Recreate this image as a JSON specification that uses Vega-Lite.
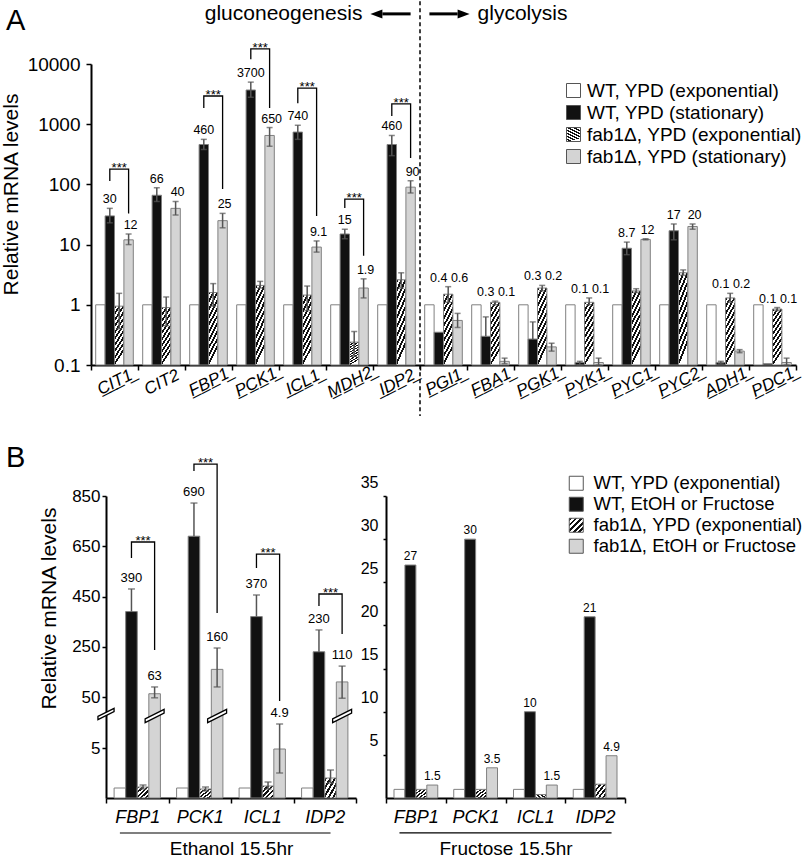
{
"$schema": "https://vega.github.io/schema/vega-lite/v6.json",
"background": "white",
"padding": 0,
"bounds": "flush",
"spacing": 131,
"config": {
  "font": "Liberation Sans",
  "view": {"stroke": null},
  "axis": {"domainColor": "#000", "domainWidth": 2, "tickColor": "#000", "tickWidth": 1.5, "labelColor": "#000", "titleColor": "#000", "grid": false, "titleFontWeight": "normal"},
  "legend": {"labelColor": "#000", "labelLimit": 0},
  "title": {"fontWeight": "normal", "color": "#000"},
  "text": {"color": "#000"}
},
"resolve": {"scale": {"x": "independent", "y": "independent", "xOffset": "independent", "fill": "independent", "shape": "independent"}, "legend": {"fill": "independent"}, "axis": {"x": "independent", "y": "independent"}},
"datasets": {
  "A": [
    {"gene": "CIT1", "series": "WT, YPD (exponential)", "value": 1},
    {"gene": "CIT1", "series": "WT, YPD (stationary)", "value": 30, "lo": 23, "hi": 40, "label": "30"},
    {"gene": "CIT1", "series": "fab1Δ, YPD (exponential)", "value": 0.95, "lo": 0.4, "hi": 1.55},
    {"gene": "CIT1", "series": "fab1Δ, YPD (stationary)", "value": 12, "lo": 10, "hi": 15, "label": "12"},
    {"gene": "CIT2", "series": "WT, YPD (exponential)", "value": 1},
    {"gene": "CIT2", "series": "WT, YPD (stationary)", "value": 66, "lo": 52, "hi": 88, "label": "66"},
    {"gene": "CIT2", "series": "fab1Δ, YPD (exponential)", "value": 0.9, "lo": 0.45, "hi": 1.35},
    {"gene": "CIT2", "series": "fab1Δ, YPD (stationary)", "value": 40, "lo": 31, "hi": 52, "label": "40"},
    {"gene": "FBP1", "series": "WT, YPD (exponential)", "value": 1},
    {"gene": "FBP1", "series": "WT, YPD (stationary)", "value": 460, "lo": 380, "hi": 560, "label": "460"},
    {"gene": "FBP1", "series": "fab1Δ, YPD (exponential)", "value": 1.6, "lo": 0.95, "hi": 2.25},
    {"gene": "FBP1", "series": "fab1Δ, YPD (stationary)", "value": 25, "lo": 19, "hi": 33, "label": "25"},
    {"gene": "PCK1", "series": "WT, YPD (exponential)", "value": 1},
    {"gene": "PCK1", "series": "WT, YPD (stationary)", "value": 3700, "lo": 2800, "hi": 5000, "label": "3700"},
    {"gene": "PCK1", "series": "fab1Δ, YPD (exponential)", "value": 2.1, "lo": 1.9, "hi": 2.45},
    {"gene": "PCK1", "series": "fab1Δ, YPD (stationary)", "value": 650, "lo": 430, "hi": 880, "label": "650"},
    {"gene": "ICL1", "series": "WT, YPD (exponential)", "value": 1},
    {"gene": "ICL1", "series": "WT, YPD (stationary)", "value": 740, "lo": 560, "hi": 960, "label": "740"},
    {"gene": "ICL1", "series": "fab1Δ, YPD (exponential)", "value": 1.45, "lo": 0.8, "hi": 2.05},
    {"gene": "ICL1", "series": "fab1Δ, YPD (stationary)", "value": 9.1, "lo": 7.5, "hi": 11.5, "label": "9.1"},
    {"gene": "MDH2", "series": "WT, YPD (exponential)", "value": 1},
    {"gene": "MDH2", "series": "WT, YPD (stationary)", "value": 15, "lo": 12.5, "hi": 18, "label": "15"},
    {"gene": "MDH2", "series": "fab1Δ, YPD (exponential)", "value": 0.24, "lo": 0.14, "hi": 0.36},
    {"gene": "MDH2", "series": "fab1Δ, YPD (stationary)", "value": 1.9, "lo": 1.3, "hi": 2.7, "label": "1.9"},
    {"gene": "IDP2", "series": "WT, YPD (exponential)", "value": 1},
    {"gene": "IDP2", "series": "WT, YPD (stationary)", "value": 460, "lo": 300, "hi": 650, "label": "460"},
    {"gene": "IDP2", "series": "fab1Δ, YPD (exponential)", "value": 2.6, "lo": 1.9, "hi": 3.4},
    {"gene": "IDP2", "series": "fab1Δ, YPD (stationary)", "value": 90, "lo": 72, "hi": 115, "label": "90"},
    {"gene": "PGI1", "series": "WT, YPD (exponential)", "value": 1},
    {"gene": "PGI1", "series": "WT, YPD (stationary)", "value": 0.35, "hi": 0.35, "label": "0.4"},
    {"gene": "PGI1", "series": "fab1Δ, YPD (exponential)", "value": 1.5, "lo": 1.1, "hi": 2.0},
    {"gene": "PGI1", "series": "fab1Δ, YPD (stationary)", "value": 0.55, "lo": 0.42, "hi": 0.72, "label": "0.6"},
    {"gene": "FBA1", "series": "WT, YPD (exponential)", "value": 1},
    {"gene": "FBA1", "series": "WT, YPD (stationary)", "value": 0.3, "lo": 0.3, "hi": 0.63, "label": "0.3"},
    {"gene": "FBA1", "series": "fab1Δ, YPD (exponential)", "value": 1.1, "lo": 1.0, "hi": 1.15},
    {"gene": "FBA1", "series": "fab1Δ, YPD (stationary)", "value": 0.115, "lo": 0.105, "hi": 0.13, "label": "0.1"},
    {"gene": "PGK1", "series": "WT, YPD (exponential)", "value": 1},
    {"gene": "PGK1", "series": "WT, YPD (stationary)", "value": 0.27, "lo": 0.27, "hi": 0.52, "label": "0.3"},
    {"gene": "PGK1", "series": "fab1Δ, YPD (exponential)", "value": 1.9, "lo": 1.7, "hi": 2.1},
    {"gene": "PGK1", "series": "fab1Δ, YPD (stationary)", "value": 0.2, "lo": 0.17, "hi": 0.23, "label": "0.2"},
    {"gene": "PYK1", "series": "WT, YPD (exponential)", "value": 1},
    {"gene": "PYK1", "series": "WT, YPD (stationary)", "value": 0.11, "lo": 0.1, "hi": 0.115, "label": "0.1"},
    {"gene": "PYK1", "series": "fab1Δ, YPD (exponential)", "value": 1.1, "lo": 1.0, "hi": 1.3},
    {"gene": "PYK1", "series": "fab1Δ, YPD (stationary)", "value": 0.11, "lo": 0.1, "hi": 0.13, "label": "0.1"},
    {"gene": "PYC1", "series": "WT, YPD (exponential)", "value": 1},
    {"gene": "PYC1", "series": "WT, YPD (stationary)", "value": 8.7, "lo": 6.8, "hi": 11, "label": "8.7"},
    {"gene": "PYC1", "series": "fab1Δ, YPD (exponential)", "value": 1.7, "lo": 1.6, "hi": 1.85},
    {"gene": "PYC1", "series": "fab1Δ, YPD (stationary)", "value": 12.2, "lo": 12, "hi": 12.5, "label": "12"},
    {"gene": "PYC2", "series": "WT, YPD (exponential)", "value": 1},
    {"gene": "PYC2", "series": "WT, YPD (stationary)", "value": 17, "lo": 12, "hi": 22, "label": "17"},
    {"gene": "PYC2", "series": "fab1Δ, YPD (exponential)", "value": 3.4, "lo": 3.1, "hi": 3.8},
    {"gene": "PYC2", "series": "fab1Δ, YPD (stationary)", "value": 20, "lo": 18, "hi": 22, "label": "20"},
    {"gene": "ADH1", "series": "WT, YPD (exponential)", "value": 1},
    {"gene": "ADH1", "series": "WT, YPD (stationary)", "value": 0.11, "lo": 0.105, "hi": 0.115, "label": "0.1"},
    {"gene": "ADH1", "series": "fab1Δ, YPD (exponential)", "value": 1.3, "lo": 1.1, "hi": 1.55},
    {"gene": "ADH1", "series": "fab1Δ, YPD (stationary)", "value": 0.17, "lo": 0.16, "hi": 0.18, "label": "0.2"},
    {"gene": "PDC1", "series": "WT, YPD (exponential)", "value": 1},
    {"gene": "PDC1", "series": "WT, YPD (stationary)", "value": 0.105, "hi": 0.105, "label": "0.1"},
    {"gene": "PDC1", "series": "fab1Δ, YPD (exponential)", "value": 0.85, "lo": 0.8, "hi": 0.9},
    {"gene": "PDC1", "series": "fab1Δ, YPD (stationary)", "value": 0.11, "lo": 0.1, "hi": 0.13, "label": "0.1"}
  ],
  "Abr": [
    {"gene": "CIT1", "series": "WT, YPD (stationary)", "y": 114, "o": 1},
    {"gene": "CIT1", "series": "WT, YPD (stationary)", "y": 180, "o": 2},
    {"gene": "CIT1", "series": "fab1Δ, YPD (stationary)", "y": 180, "o": 3},
    {"gene": "CIT1", "series": "fab1Δ, YPD (stationary)", "y": 33, "o": 4},
    {"gene": "FBP1", "series": "WT, YPD (stationary)", "y": 1860, "o": 1},
    {"gene": "FBP1", "series": "WT, YPD (stationary)", "y": 2940, "o": 2},
    {"gene": "FBP1", "series": "fab1Δ, YPD (stationary)", "y": 2940, "o": 3},
    {"gene": "FBP1", "series": "fab1Δ, YPD (stationary)", "y": 84, "o": 4},
    {"gene": "PCK1", "series": "WT, YPD (stationary)", "y": 12000, "o": 1},
    {"gene": "PCK1", "series": "WT, YPD (stationary)", "y": 17800, "o": 2},
    {"gene": "PCK1", "series": "fab1Δ, YPD (stationary)", "y": 17800, "o": 3},
    {"gene": "PCK1", "series": "fab1Δ, YPD (stationary)", "y": 1860, "o": 4},
    {"gene": "ICL1", "series": "WT, YPD (stationary)", "y": 2230, "o": 1},
    {"gene": "ICL1", "series": "WT, YPD (stationary)", "y": 3980, "o": 2},
    {"gene": "ICL1", "series": "fab1Δ, YPD (stationary)", "y": 3980, "o": 3},
    {"gene": "ICL1", "series": "fab1Δ, YPD (stationary)", "y": 30, "o": 4},
    {"gene": "MDH2", "series": "WT, YPD (stationary)", "y": 40.5, "o": 1},
    {"gene": "MDH2", "series": "WT, YPD (stationary)", "y": 57, "o": 2},
    {"gene": "MDH2", "series": "fab1Δ, YPD (stationary)", "y": 57, "o": 3},
    {"gene": "MDH2", "series": "fab1Δ, YPD (stationary)", "y": 6.5, "o": 4},
    {"gene": "IDP2", "series": "WT, YPD (stationary)", "y": 1370, "o": 1},
    {"gene": "IDP2", "series": "WT, YPD (stationary)", "y": 2170, "o": 2},
    {"gene": "IDP2", "series": "fab1Δ, YPD (stationary)", "y": 2170, "o": 3},
    {"gene": "IDP2", "series": "fab1Δ, YPD (stationary)", "y": 275, "o": 4}
  ],
  "E": [
    {"gene": "FBP1", "series": "WT, YPD (exponential)", "value": 1},
    {"gene": "FBP1", "series": "WT, EtOH or Fructose", "value": 390, "lo": 390, "hi": 480, "label": "390"},
    {"gene": "FBP1", "series": "fab1Δ, YPD (exponential)", "value": 1.1, "lo": 0.9, "hi": 1.3},
    {"gene": "FBP1", "series": "fab1Δ, EtOH or Fructose", "value": 63, "lo": 48, "hi": 90, "label": "63"},
    {"gene": "PCK1", "series": "WT, YPD (exponential)", "value": 1},
    {"gene": "PCK1", "series": "WT, EtOH or Fructose", "value": 690, "lo": 690, "hi": 822, "label": "690"},
    {"gene": "PCK1", "series": "fab1Δ, YPD (exponential)", "value": 0.9, "lo": 0.7, "hi": 1.1},
    {"gene": "PCK1", "series": "fab1Δ, EtOH or Fructose", "value": 160, "lo": 90, "hi": 245, "label": "160"},
    {"gene": "ICL1", "series": "WT, YPD (exponential)", "value": 1},
    {"gene": "ICL1", "series": "WT, EtOH or Fructose", "value": 370, "lo": 370, "hi": 456, "label": "370"},
    {"gene": "ICL1", "series": "fab1Δ, YPD (exponential)", "value": 1.2, "lo": 0.9, "hi": 1.6},
    {"gene": "ICL1", "series": "fab1Δ, EtOH or Fructose", "value": 4.9, "lo": 2.5, "hi": 7.4, "label": "4.9"},
    {"gene": "IDP2", "series": "WT, YPD (exponential)", "value": 1},
    {"gene": "IDP2", "series": "WT, EtOH or Fructose", "value": 230, "lo": 230, "hi": 317, "label": "230"},
    {"gene": "IDP2", "series": "fab1Δ, YPD (exponential)", "value": 2.0, "lo": 1.5, "hi": 2.8},
    {"gene": "IDP2", "series": "fab1Δ, EtOH or Fructose", "value": 110, "lo": 47, "hi": 173, "label": "110"}
  ],
  "Ebr": [
    {"gene": "FBP1", "series": "WT, EtOH or Fructose", "y": 603, "o": 1},
    {"gene": "FBP1", "series": "WT, EtOH or Fructose", "y": 667, "o": 2},
    {"gene": "FBP1", "series": "fab1Δ, EtOH or Fructose", "y": 667, "o": 3},
    {"gene": "FBP1", "series": "fab1Δ, EtOH or Fructose", "y": 237, "o": 4},
    {"gene": "PCK1", "series": "WT, EtOH or Fructose", "y": 950, "o": 1},
    {"gene": "PCK1", "series": "WT, EtOH or Fructose", "y": 977, "o": 2},
    {"gene": "PCK1", "series": "fab1Δ, EtOH or Fructose", "y": 977, "o": 3},
    {"gene": "PCK1", "series": "fab1Δ, EtOH or Fructose", "y": 384, "o": 4},
    {"gene": "ICL1", "series": "WT, EtOH or Fructose", "y": 563, "o": 1},
    {"gene": "ICL1", "series": "WT, EtOH or Fructose", "y": 619, "o": 2},
    {"gene": "ICL1", "series": "fab1Δ, EtOH or Fructose", "y": 619, "o": 3},
    {"gene": "ICL1", "series": "fab1Δ, EtOH or Fructose", "y": 40, "o": 4},
    {"gene": "IDP2", "series": "WT, EtOH or Fructose", "y": 412, "o": 1},
    {"gene": "IDP2", "series": "WT, EtOH or Fructose", "y": 460, "o": 2},
    {"gene": "IDP2", "series": "fab1Δ, EtOH or Fructose", "y": 460, "o": 3},
    {"gene": "IDP2", "series": "fab1Δ, EtOH or Fructose", "y": 301, "o": 4}
  ],
  "F": [
    {"gene": "FBP1", "series": "WT, YPD (exponential)", "value": 1},
    {"gene": "FBP1", "series": "WT, EtOH or Fructose", "value": 27, "label": "27"},
    {"gene": "FBP1", "series": "fab1Δ, YPD (exponential)", "value": 1.0},
    {"gene": "FBP1", "series": "fab1Δ, EtOH or Fructose", "value": 1.5, "label": "1.5"},
    {"gene": "PCK1", "series": "WT, YPD (exponential)", "value": 1},
    {"gene": "PCK1", "series": "WT, EtOH or Fructose", "value": 30, "label": "30"},
    {"gene": "PCK1", "series": "fab1Δ, YPD (exponential)", "value": 1.0},
    {"gene": "PCK1", "series": "fab1Δ, EtOH or Fructose", "value": 3.5, "label": "3.5"},
    {"gene": "ICL1", "series": "WT, YPD (exponential)", "value": 1},
    {"gene": "ICL1", "series": "WT, EtOH or Fructose", "value": 10, "label": "10"},
    {"gene": "ICL1", "series": "fab1Δ, YPD (exponential)", "value": 0.4},
    {"gene": "ICL1", "series": "fab1Δ, EtOH or Fructose", "value": 1.5, "label": "1.5"},
    {"gene": "IDP2", "series": "WT, YPD (exponential)", "value": 1},
    {"gene": "IDP2", "series": "WT, EtOH or Fructose", "value": 21, "label": "21"},
    {"gene": "IDP2", "series": "fab1Δ, YPD (exponential)", "value": 1.6},
    {"gene": "IDP2", "series": "fab1Δ, EtOH or Fructose", "value": 4.9, "label": "4.9"}
  ]
},
"vconcat": [
{
  "width": 705, "height": 301,
  "title": {"text": "A", "anchor": "start", "frame": "group", "fontSize": 29, "dx": -85, "dy": 58, "offset": 0, "baseline": "alphabetic"},
  "layer": [
    {
      "data": {"name": "A"},
      "mark": {"type": "bar", "stroke": "#808080", "strokeWidth": 1},
      "encoding": {
        "x": {"field": "gene", "type": "nominal", "scale": {"domain": ["CIT1","CIT2","FBP1","PCK1","ICL1","MDH2","IDP2","PGI1","FBA1","PGK1","PYK1","PYC1","PYC2","ADH1","PDC1"], "paddingInner": 0, "paddingOuter": 0},
          "axis": {"title": null, "labelAngle": -27, "labelAlign": "center", "labelBaseline": "middle", "labelPadding": 12, "labelFontSize": 17, "labelFontStyle": "italic", "tickBand": "extent", "tickSize": 5, "labelExpr": "datum.label == 'CIT2' ? datum.label : replace(datum.label, regexp('(.)', 'g'), '$1\u0332')"}},
        "xOffset": {"field": "series", "type": "nominal", "scale": {"domain": ["WT, YPD (exponential)", "WT, YPD (stationary)", "fab1Δ, YPD (exponential)", "fab1Δ, YPD (stationary)"], "paddingInner": 0, "paddingOuter": 0.5}},
        "y": {"field": "value", "type": "quantitative", "scale": {"type": "log", "domain": [0.1, 10000], "nice": false},
          "axis": {"values": [0.1, 1, 10, 100, 1000, 10000], "labelExpr": "datum.value < 1 ? '0.1' : format(datum.value, 'd')", "labelFontSize": 19, "tickSize": 5, "labelPadding": 6, "title": "Relative mRNA levels", "titleFontSize": 21, "titlePadding": 6, "titleY": 130}},
        "y2": {"datum": 0.1},
        "fill": {"field": "series", "type": "nominal", "scale": {"domain": ["WT, YPD (exponential)", "WT, YPD (stationary)", "fab1Δ, YPD (exponential)", "fab1Δ, YPD (stationary)"],
          "range": ["#ffffff", "#111111", {"expr": "{gradient:'linear',x1:0,y1:0,x2:0.25,y2:1,stops:[{offset:0,color:'#111'},{offset:0.05,color:'#111'},{offset:0.05,color:'#fff'},{offset:0.1,color:'#fff'},{offset:0.1,color:'#111'},{offset:0.15,color:'#111'},{offset:0.15,color:'#fff'},{offset:0.2,color:'#fff'},{offset:0.2,color:'#111'},{offset:0.25,color:'#111'},{offset:0.25,color:'#fff'},{offset:0.3,color:'#fff'},{offset:0.3,color:'#111'},{offset:0.35,color:'#111'},{offset:0.35,color:'#fff'},{offset:0.4,color:'#fff'},{offset:0.4,color:'#111'},{offset:0.45,color:'#111'},{offset:0.45,color:'#fff'},{offset:0.5,color:'#fff'},{offset:0.5,color:'#111'},{offset:0.55,color:'#111'},{offset:0.55,color:'#fff'},{offset:0.6,color:'#fff'},{offset:0.6,color:'#111'},{offset:0.65,color:'#111'},{offset:0.65,color:'#fff'},{offset:0.7,color:'#fff'},{offset:0.7,color:'#111'},{offset:0.75,color:'#111'},{offset:0.75,color:'#fff'},{offset:0.8,color:'#fff'},{offset:0.8,color:'#111'},{offset:0.85,color:'#111'},{offset:0.85,color:'#fff'},{offset:0.9,color:'#fff'},{offset:0.9,color:'#111'},{offset:0.95,color:'#111'},{offset:0.95,color:'#fff'},{offset:1,color:'#fff'}]}"}, "#d4d4d4"]},
          "legend": {"title": null, "orient": "none", "legendX": 473, "legendY": 17, "labelFontSize": 19, "symbolType": "square", "symbolSize": 196, "symbolStrokeColor": "#555", "symbolStrokeWidth": 1, "rowPadding": 2, "labelOffset": 4}}
      }
    },
    {
      "data": {"name": "A"},
      "transform": [{"filter": "isValid(datum.lo)"}],
      "mark": {"type": "rule", "color": "#555", "strokeWidth": 1.5},
      "encoding": {
        "x": {"field": "gene", "type": "nominal", "scale": {"domain": ["CIT1","CIT2","FBP1","PCK1","ICL1","MDH2","IDP2","PGI1","FBA1","PGK1","PYK1","PYC1","PYC2","ADH1","PDC1"], "paddingInner": 0, "paddingOuter": 0}},
        "xOffset": {"field": "series", "type": "nominal", "scale": {"domain": ["WT, YPD (exponential)", "WT, YPD (stationary)", "fab1Δ, YPD (exponential)", "fab1Δ, YPD (stationary)"], "paddingInner": 0, "paddingOuter": 0.5}},
        "y": {"field": "lo", "type": "quantitative", "scale": {"type": "log", "domain": [0.1, 10000], "nice": false}},
        "y2": {"field": "hi"}
      }
    },
    {
      "data": {"name": "A"},
      "transform": [{"filter": "isValid(datum.lo)"}],
      "mark": {"type": "tick", "color": "#555", "thickness": 1.5, "size": 6},
      "encoding": {
        "x": {"field": "gene", "type": "nominal", "scale": {"domain": ["CIT1","CIT2","FBP1","PCK1","ICL1","MDH2","IDP2","PGI1","FBA1","PGK1","PYK1","PYC1","PYC2","ADH1","PDC1"], "paddingInner": 0, "paddingOuter": 0}},
        "xOffset": {"field": "series", "type": "nominal", "scale": {"domain": ["WT, YPD (exponential)", "WT, YPD (stationary)", "fab1Δ, YPD (exponential)", "fab1Δ, YPD (stationary)"], "paddingInner": 0, "paddingOuter": 0.5}},
        "y": {"field": "hi", "type": "quantitative", "scale": {"type": "log", "domain": [0.1, 10000], "nice": false}}
      }
    },
    {
      "data": {"name": "A"},
      "transform": [{"filter": "isValid(datum.lo) && datum.lo < datum.value"}],
      "mark": {"type": "tick", "color": "#555", "thickness": 1.5, "size": 6},
      "encoding": {
        "x": {"field": "gene", "type": "nominal", "scale": {"domain": ["CIT1","CIT2","FBP1","PCK1","ICL1","MDH2","IDP2","PGI1","FBA1","PGK1","PYK1","PYC1","PYC2","ADH1","PDC1"], "paddingInner": 0, "paddingOuter": 0}},
        "xOffset": {"field": "series", "type": "nominal", "scale": {"domain": ["WT, YPD (exponential)", "WT, YPD (stationary)", "fab1Δ, YPD (exponential)", "fab1Δ, YPD (stationary)"], "paddingInner": 0, "paddingOuter": 0.5}},
        "y": {"field": "lo", "type": "quantitative", "scale": {"type": "log", "domain": [0.1, 10000], "nice": false}}
      }
    },
    {
      "data": {"name": "A"},
      "transform": [
        {"filter": {"field": "series", "oneOf": ["WT, YPD (stationary)", "fab1Δ, YPD (exponential)"]}},
        {"aggregate": [{"op": "max", "field": "hi", "as": "ly"}, {"op": "max", "field": "label", "as": "lab"}], "groupby": ["gene"]},
        {"filter": "isValid(datum.lab)"}
      ],
      "mark": {"type": "text", "baseline": "bottom", "dy": -2, "fontSize": 12.5},
      "encoding": {
        "x": {"field": "gene", "type": "nominal", "scale": {"domain": ["CIT1","CIT2","FBP1","PCK1","ICL1","MDH2","IDP2","PGI1","FBA1","PGK1","PYK1","PYC1","PYC2","ADH1","PDC1"], "paddingInner": 0, "paddingOuter": 0}},
        "xOffset": {"datum": "WT, YPD (stationary)", "type": "nominal", "scale": {"domain": ["WT, YPD (exponential)", "WT, YPD (stationary)", "fab1Δ, YPD (exponential)", "fab1Δ, YPD (stationary)"], "paddingInner": 0, "paddingOuter": 0.5}},
        "y": {"field": "ly", "type": "quantitative", "scale": {"type": "log", "domain": [0.1, 10000], "nice": false}},
        "text": {"field": "lab", "type": "nominal"}
      }
    },
    {
      "data": {"name": "A"},
      "transform": [
        {"filter": {"field": "series", "oneOf": ["fab1Δ, YPD (stationary)", "fab1Δ, YPD (exponential)"]}},
        {"aggregate": [{"op": "max", "field": "hi", "as": "ly"}, {"op": "max", "field": "label", "as": "lab"}], "groupby": ["gene"]},
        {"filter": "isValid(datum.lab)"}
      ],
      "mark": {"type": "text", "baseline": "bottom", "dy": -2, "dx": 2, "fontSize": 12.5},
      "encoding": {
        "x": {"field": "gene", "type": "nominal", "scale": {"domain": ["CIT1","CIT2","FBP1","PCK1","ICL1","MDH2","IDP2","PGI1","FBA1","PGK1","PYK1","PYC1","PYC2","ADH1","PDC1"], "paddingInner": 0, "paddingOuter": 0}},
        "xOffset": {"datum": "fab1Δ, YPD (stationary)", "type": "nominal", "scale": {"domain": ["WT, YPD (exponential)", "WT, YPD (stationary)", "fab1Δ, YPD (exponential)", "fab1Δ, YPD (stationary)"], "paddingInner": 0, "paddingOuter": 0.5}},
        "y": {"field": "ly", "type": "quantitative", "scale": {"type": "log", "domain": [0.1, 10000], "nice": false}},
        "text": {"field": "lab", "type": "nominal"}
      }
    },
    {
      "data": {"name": "Abr"},
      "mark": {"type": "line", "color": "#000", "strokeWidth": 1.3},
      "encoding": {
        "x": {"field": "gene", "type": "nominal", "scale": {"domain": ["CIT1","CIT2","FBP1","PCK1","ICL1","MDH2","IDP2","PGI1","FBA1","PGK1","PYK1","PYC1","PYC2","ADH1","PDC1"], "paddingInner": 0, "paddingOuter": 0}},
        "xOffset": {"field": "series", "type": "nominal", "scale": {"domain": ["WT, YPD (exponential)", "WT, YPD (stationary)", "fab1Δ, YPD (exponential)", "fab1Δ, YPD (stationary)"], "paddingInner": 0, "paddingOuter": 0.5}},
        "y": {"field": "y", "type": "quantitative", "scale": {"type": "log", "domain": [0.1, 10000], "nice": false}},
        "order": {"field": "o", "type": "quantitative"},
        "detail": {"field": "gene", "type": "nominal"}
      }
    },
    {
      "data": {"name": "Abr"},
      "transform": [{"filter": "datum.o == 2"}],
      "mark": {"type": "text", "text": "***", "baseline": "bottom", "dy": 6, "fontSize": 13},
      "encoding": {
        "x": {"field": "gene", "type": "nominal", "scale": {"domain": ["CIT1","CIT2","FBP1","PCK1","ICL1","MDH2","IDP2","PGI1","FBA1","PGK1","PYK1","PYC1","PYC2","ADH1","PDC1"], "paddingInner": 0, "paddingOuter": 0}},
        "xOffset": {"datum": "fab1Δ, YPD (exponential)", "type": "nominal", "scale": {"domain": ["WT, YPD (exponential)", "WT, YPD (stationary)", "fab1Δ, YPD (exponential)", "fab1Δ, YPD (stationary)"], "paddingInner": 0, "paddingOuter": 0.5}},
        "y": {"field": "y", "type": "quantitative", "scale": {"type": "log", "domain": [0.1, 10000], "nice": false}}
      }
    },
    {
      "data": {"values": [{"gene": "PGI1"}]},
      "mark": {"type": "rule", "color": "#000", "strokeWidth": 1.5, "strokeDash": [4, 3]},
      "encoding": {
        "x": {"field": "gene", "type": "nominal", "bandPosition": 0, "scale": {"domain": ["CIT1","CIT2","FBP1","PCK1","ICL1","MDH2","IDP2","PGI1","FBA1","PGK1","PYK1","PYC1","PYC2","ADH1","PDC1"], "paddingInner": 0, "paddingOuter": 0}},
        "y": {"datum": 110000, "type": "quantitative", "scale": {"type": "log", "domain": [0.1, 10000], "nice": false}},
        "y2": {"datum": 0.0142}
      }
    },
    {
      "data": {"values": [
        {"gene": "IDP2", "series": "WT, YPD (exponential)", "o": 1, "a": "L"},
        {"gene": "IDP2", "series": "fab1Δ, YPD (stationary)", "o": 2, "a": "L"},
        {"gene": "PGI1", "series": "WT, YPD (exponential)", "o": 1, "a": "R"},
        {"gene": "PGI1", "series": "fab1Δ, YPD (stationary)", "o": 2, "a": "R"}
      ]},
      "mark": {"type": "line", "color": "#000", "strokeWidth": 3},
      "encoding": {
        "x": {"field": "gene", "type": "nominal", "scale": {"domain": ["CIT1","CIT2","FBP1","PCK1","ICL1","MDH2","IDP2","PGI1","FBA1","PGK1","PYK1","PYC1","PYC2","ADH1","PDC1"], "paddingInner": 0, "paddingOuter": 0}},
        "xOffset": {"field": "series", "type": "nominal", "scale": {"domain": ["WT, YPD (exponential)", "WT, YPD (stationary)", "fab1Δ, YPD (exponential)", "fab1Δ, YPD (stationary)"], "paddingInner": 0, "paddingOuter": 0.5}},
        "y": {"datum": 68000, "type": "quantitative", "scale": {"type": "log", "domain": [0.1, 10000], "nice": false}},
        "order": {"field": "o", "type": "quantitative"},
        "detail": {"field": "a", "type": "nominal"}
      }
    },
    {
      "data": {"values": [
        {"gene": "IDP2", "series": "WT, YPD (exponential)", "a": "L"},
        {"gene": "PGI1", "series": "fab1Δ, YPD (stationary)", "a": "R"}
      ]},
      "mark": {"type": "point", "filled": true, "size": 400, "color": "#000", "opacity": 1},
      "encoding": {
        "x": {"field": "gene", "type": "nominal", "scale": {"domain": ["CIT1","CIT2","FBP1","PCK1","ICL1","MDH2","IDP2","PGI1","FBA1","PGK1","PYK1","PYC1","PYC2","ADH1","PDC1"], "paddingInner": 0, "paddingOuter": 0}},
        "xOffset": {"field": "series", "type": "nominal", "scale": {"domain": ["WT, YPD (exponential)", "WT, YPD (stationary)", "fab1Δ, YPD (exponential)", "fab1Δ, YPD (stationary)"], "paddingInner": 0, "paddingOuter": 0.5}},
        "y": {"datum": 68000, "type": "quantitative", "scale": {"type": "log", "domain": [0.1, 10000], "nice": false}},
        "shape": {"field": "a", "type": "nominal", "scale": {"domain": ["L", "R"], "range": ["M-1.2,0 L0,-0.45 L0,0.45 Z", "M1.2,0 L0,-0.45 L0,0.45 Z"]}, "legend": null}
      }
    },
    {
      "data": {"values": [{"gene": "IDP2", "series": "WT, YPD (exponential)", "t": "gluconeogenesis"}]},
      "mark": {"type": "text", "align": "right", "baseline": "middle", "dx": -20, "fontSize": 21},
      "encoding": {
        "x": {"field": "gene", "type": "nominal", "scale": {"domain": ["CIT1","CIT2","FBP1","PCK1","ICL1","MDH2","IDP2","PGI1","FBA1","PGK1","PYK1","PYC1","PYC2","ADH1","PDC1"], "paddingInner": 0, "paddingOuter": 0}},
        "xOffset": {"field": "series", "type": "nominal", "scale": {"domain": ["WT, YPD (exponential)", "WT, YPD (stationary)", "fab1Δ, YPD (exponential)", "fab1Δ, YPD (stationary)"], "paddingInner": 0, "paddingOuter": 0.5}},
        "y": {"datum": 68000, "type": "quantitative", "scale": {"type": "log", "domain": [0.1, 10000], "nice": false}},
        "text": {"field": "t", "type": "nominal"}
      }
    },
    {
      "data": {"values": [{"gene": "PGI1", "series": "fab1Δ, YPD (stationary)", "t": "glycolysis"}]},
      "mark": {"type": "text", "align": "left", "baseline": "middle", "dx": 20, "fontSize": 21},
      "encoding": {
        "x": {"field": "gene", "type": "nominal", "scale": {"domain": ["CIT1","CIT2","FBP1","PCK1","ICL1","MDH2","IDP2","PGI1","FBA1","PGK1","PYK1","PYC1","PYC2","ADH1","PDC1"], "paddingInner": 0, "paddingOuter": 0}},
        "xOffset": {"field": "series", "type": "nominal", "scale": {"domain": ["WT, YPD (exponential)", "WT, YPD (stationary)", "fab1Δ, YPD (exponential)", "fab1Δ, YPD (stationary)"], "paddingInner": 0, "paddingOuter": 0.5}},
        "y": {"datum": 68000, "type": "quantitative", "scale": {"type": "log", "domain": [0.1, 10000], "nice": false}},
        "text": {"field": "t", "type": "nominal"}
      }
    }
  ]
},
{
  "bounds": "flush",
  "spacing": 30,
  "resolve": {"scale": {"x": "independent", "y": "independent", "xOffset": "independent", "fill": "independent", "shape": "independent"}, "legend": {"fill": "independent"}, "axis": {"x": "independent", "y": "independent"}},
  "hconcat": [
    {
      "width": 265, "height": 302,
      "title": {"text": "B", "anchor": "start", "frame": "group", "fontSize": 29, "dx": -85, "dy": 39, "offset": 0, "baseline": "alphabetic"},
      "layer": [
        {
          "data": {"name": "E"},
          "mark": {"type": "bar", "stroke": "#808080", "strokeWidth": 1},
          "encoding": {
            "x": {"field": "gene", "type": "nominal", "scale": {"domain": ["FBP1","PCK1","ICL1","IDP2"], "range": [15, 265], "paddingInner": 0, "paddingOuter": 0},
              "axis": {"title": "Ethanol 15.5hr", "titleFontSize": 19, "titlePadding": 13, "labelAngle": 0, "labelFontSize": 18, "labelFontStyle": "italic", "labelPadding": 5, "tickSize": 5, "tickBand": "extent"}},
            "xOffset": {"field": "series", "type": "nominal", "scale": {"domain": ["WT, YPD (exponential)", "WT, EtOH or Fructose", "fab1Δ, YPD (exponential)", "fab1Δ, EtOH or Fructose"], "paddingInner": 0, "paddingOuter": 0.7}},
            "y": {"field": "value", "type": "quantitative", "scale": {"domain": [0, 8.4, 50, 850], "range": [302, 218, 201, 0], "nice": false, "zero": false},
              "axis": {"values": [5, 50, 250, 450, 650, 850], "offset": -15, "tickSize": 4, "labelPadding": 2, "labelFontSize": 17, "title": "Relative mRNA levels", "titleFontSize": 21, "titlePadding": 12, "titleY": 112}},
            "fill": {"field": "series", "type": "nominal", "scale": {"domain": ["WT, YPD (exponential)", "WT, EtOH or Fructose", "fab1Δ, YPD (exponential)", "fab1Δ, EtOH or Fructose"],
              "range": ["#ffffff", "#111111", {"expr": "{gradient:'linear',x1:0,y1:0,x2:1,y2:1,stops:[{offset:0,color:'#111'},{offset:0.1,color:'#111'},{offset:0.1,color:'#fff'},{offset:0.2,color:'#fff'},{offset:0.2,color:'#111'},{offset:0.3,color:'#111'},{offset:0.3,color:'#fff'},{offset:0.4,color:'#fff'},{offset:0.4,color:'#111'},{offset:0.5,color:'#111'},{offset:0.5,color:'#fff'},{offset:0.6,color:'#fff'},{offset:0.6,color:'#111'},{offset:0.7,color:'#111'},{offset:0.7,color:'#fff'},{offset:0.8,color:'#fff'},{offset:0.8,color:'#111'},{offset:0.9,color:'#111'},{offset:0.9,color:'#fff'},{offset:1,color:'#fff'}]}"}, "#d4d4d4"]},
              "legend": null}
          }
        },
        {
          "data": {"name": "E"},
          "transform": [{"filter": "isValid(datum.lo)"}],
          "mark": {"type": "rule", "color": "#555", "strokeWidth": 1.5},
          "encoding": {
            "x": {"field": "gene", "type": "nominal", "scale": {"domain": ["FBP1","PCK1","ICL1","IDP2"], "range": [15, 265], "paddingInner": 0, "paddingOuter": 0}},
            "xOffset": {"field": "series", "type": "nominal", "scale": {"domain": ["WT, YPD (exponential)", "WT, EtOH or Fructose", "fab1Δ, YPD (exponential)", "fab1Δ, EtOH or Fructose"], "paddingInner": 0, "paddingOuter": 0.7}},
            "y": {"field": "lo", "type": "quantitative", "scale": {"domain": [0, 8.4, 50, 850], "range": [302, 218, 201, 0], "nice": false, "zero": false}},
            "y2": {"field": "hi"}
          }
        },
        {
          "data": {"name": "E"},
          "transform": [{"filter": "isValid(datum.lo)"}],
          "mark": {"type": "tick", "color": "#555", "thickness": 1.5, "size": 7},
          "encoding": {
            "x": {"field": "gene", "type": "nominal", "scale": {"domain": ["FBP1","PCK1","ICL1","IDP2"], "range": [15, 265], "paddingInner": 0, "paddingOuter": 0}},
            "xOffset": {"field": "series", "type": "nominal", "scale": {"domain": ["WT, YPD (exponential)", "WT, EtOH or Fructose", "fab1Δ, YPD (exponential)", "fab1Δ, EtOH or Fructose"], "paddingInner": 0, "paddingOuter": 0.7}},
            "y": {"field": "hi", "type": "quantitative", "scale": {"domain": [0, 8.4, 50, 850], "range": [302, 218, 201, 0], "nice": false, "zero": false}}
          }
        },
        {
          "data": {"name": "E"},
          "transform": [{"filter": "isValid(datum.lo) && datum.lo < datum.value"}],
          "mark": {"type": "tick", "color": "#555", "thickness": 1.5, "size": 7},
          "encoding": {
            "x": {"field": "gene", "type": "nominal", "scale": {"domain": ["FBP1","PCK1","ICL1","IDP2"], "range": [15, 265], "paddingInner": 0, "paddingOuter": 0}},
            "xOffset": {"field": "series", "type": "nominal", "scale": {"domain": ["WT, YPD (exponential)", "WT, EtOH or Fructose", "fab1Δ, YPD (exponential)", "fab1Δ, EtOH or Fructose"], "paddingInner": 0, "paddingOuter": 0.7}},
            "y": {"field": "lo", "type": "quantitative", "scale": {"domain": [0, 8.4, 50, 850], "range": [302, 218, 201, 0], "nice": false, "zero": false}}
          }
        },
        {
          "data": {"name": "E"},
          "transform": [{"filter": "isValid(datum.label)"}],
          "mark": {"type": "text", "baseline": "bottom", "dy": -4, "fontSize": 13},
          "encoding": {
            "x": {"field": "gene", "type": "nominal", "scale": {"domain": ["FBP1","PCK1","ICL1","IDP2"], "range": [15, 265], "paddingInner": 0, "paddingOuter": 0}},
            "xOffset": {"field": "series", "type": "nominal", "scale": {"domain": ["WT, YPD (exponential)", "WT, EtOH or Fructose", "fab1Δ, YPD (exponential)", "fab1Δ, EtOH or Fructose"], "paddingInner": 0, "paddingOuter": 0.7}},
            "y": {"field": "hi", "type": "quantitative", "scale": {"domain": [0, 8.4, 50, 850], "range": [302, 218, 201, 0], "nice": false, "zero": false}},
            "text": {"field": "label", "type": "nominal"}
          }
        },
        {
          "data": {"name": "Ebr"},
          "mark": {"type": "line", "color": "#000", "strokeWidth": 1.3},
          "encoding": {
            "x": {"field": "gene", "type": "nominal", "scale": {"domain": ["FBP1","PCK1","ICL1","IDP2"], "range": [15, 265], "paddingInner": 0, "paddingOuter": 0}},
            "xOffset": {"field": "series", "type": "nominal", "scale": {"domain": ["WT, YPD (exponential)", "WT, EtOH or Fructose", "fab1Δ, YPD (exponential)", "fab1Δ, EtOH or Fructose"], "paddingInner": 0, "paddingOuter": 0.7}},
            "y": {"field": "y", "type": "quantitative", "scale": {"domain": [0, 8.4, 50, 850], "range": [302, 218, 201, 0], "nice": false, "zero": false}},
            "order": {"field": "o", "type": "quantitative"},
            "detail": {"field": "gene", "type": "nominal"}
          }
        },
        {
          "data": {"name": "Ebr"},
          "transform": [{"filter": "datum.o == 2"}],
          "mark": {"type": "text", "text": "***", "baseline": "bottom", "dy": 6, "fontSize": 13},
          "encoding": {
            "x": {"field": "gene", "type": "nominal", "scale": {"domain": ["FBP1","PCK1","ICL1","IDP2"], "range": [15, 265], "paddingInner": 0, "paddingOuter": 0}},
            "xOffset": {"datum": "fab1Δ, YPD (exponential)", "type": "nominal", "scale": {"domain": ["WT, YPD (exponential)", "WT, EtOH or Fructose", "fab1Δ, YPD (exponential)", "fab1Δ, EtOH or Fructose"], "paddingInner": 0, "paddingOuter": 0.7}},
            "y": {"field": "y", "type": "quantitative", "scale": {"domain": [0, 8.4, 50, 850], "range": [302, 218, 201, 0], "nice": false, "zero": false}}
          }
        },
        {
          "data": {"values": [
            {"gene": "FBP1", "series": "fab1Δ, EtOH or Fructose"},
            {"gene": "PCK1", "series": "fab1Δ, EtOH or Fructose"},
            {"gene": "IDP2", "series": "fab1Δ, EtOH or Fructose"}
          ]},
          "mark": {"type": "point", "shape": "M-1,0.3 L1,-0.7 L1,-0.3 L-1,0.7 Z", "size": 360, "fill": "#fff", "fillOpacity": 1, "stroke": "#000", "strokeWidth": 1.3, "opacity": 1},
          "encoding": {
            "x": {"field": "gene", "type": "nominal", "scale": {"domain": ["FBP1","PCK1","ICL1","IDP2"], "range": [15, 265], "paddingInner": 0, "paddingOuter": 0}},
            "xOffset": {"field": "series", "type": "nominal", "scale": {"domain": ["WT, YPD (exponential)", "WT, EtOH or Fructose", "fab1Δ, YPD (exponential)", "fab1Δ, EtOH or Fructose"], "paddingInner": 0, "paddingOuter": 0.7}},
            "y": {"datum": 8.2, "type": "quantitative", "scale": {"domain": [0, 8.4, 50, 850], "range": [302, 218, 201, 0], "nice": false, "zero": false}}
          }
        },
        {
          "data": {"values": [{"gene": "FBP1"}]},
          "mark": {"type": "point", "shape": "M-1,0.3 L1,-0.7 L1,-0.3 L-1,0.7 Z", "size": 260, "fill": "#fff", "fillOpacity": 1, "stroke": "#000", "strokeWidth": 1.3, "opacity": 1},
          "encoding": {
            "x": {"field": "gene", "type": "nominal", "bandPosition": 0, "scale": {"domain": ["FBP1","PCK1","ICL1","IDP2"], "range": [15, 265], "paddingInner": 0, "paddingOuter": 0}},
            "y": {"datum": 8.4, "type": "quantitative", "scale": {"domain": [0, 8.4, 50, 850], "range": [302, 218, 201, 0], "nice": false, "zero": false}}
          }
        },
        {
          "data": {"values": [
            {"gene": "FBP1", "series": "WT, YPD (exponential)", "o": 1},
            {"gene": "IDP2", "series": "fab1Δ, YPD (exponential)", "o": 2}
          ]},
          "mark": {"type": "line", "color": "#000", "strokeWidth": 1.2},
          "encoding": {
            "x": {"field": "gene", "type": "nominal", "scale": {"domain": ["FBP1","PCK1","ICL1","IDP2"], "range": [15, 265], "paddingInner": 0, "paddingOuter": 0}},
            "xOffset": {"field": "series", "type": "nominal", "scale": {"domain": ["WT, YPD (exponential)", "WT, EtOH or Fructose", "fab1Δ, YPD (exponential)", "fab1Δ, EtOH or Fructose"], "paddingInner": 0, "paddingOuter": 0.7}},
            "y": {"datum": -3.5, "type": "quantitative", "scale": {"domain": [0, 8.4, 50, 850], "range": [302, 218, 201, 0], "nice": false, "zero": false}},
            "order": {"field": "o", "type": "quantitative"}
          }
        }
      ]
    },
    {
      "width": 239, "height": 302,
      "layer": [
        {
          "data": {"name": "F"},
          "mark": {"type": "bar", "stroke": "#808080", "strokeWidth": 1},
          "encoding": {
            "x": {"field": "gene", "type": "nominal", "scale": {"domain": ["FBP1","PCK1","ICL1","IDP2"], "paddingInner": 0, "paddingOuter": 0},
              "axis": {"title": "Fructose 15.5hr", "titleFontSize": 19, "titlePadding": 13, "labelAngle": 0, "labelFontSize": 18, "labelFontStyle": "italic", "labelPadding": 5, "tickSize": 5, "tickBand": "extent"}},
            "xOffset": {"field": "series", "type": "nominal", "scale": {"domain": ["WT, YPD (exponential)", "WT, EtOH or Fructose", "fab1Δ, YPD (exponential)", "fab1Δ, EtOH or Fructose"], "paddingInner": 0, "paddingOuter": 0.73}},
            "y": {"field": "value", "type": "quantitative", "scale": {"domain": [0, 35], "nice": false},
              "axis": {"values": [5, 10, 15, 20, 25, 30, 35], "labelOffset": -14, "tickSize": 3, "labelPadding": 5, "labelFontSize": 16, "title": null}},
            "fill": {"field": "series", "type": "nominal", "scale": {"domain": ["WT, YPD (exponential)", "WT, EtOH or Fructose", "fab1Δ, YPD (exponential)", "fab1Δ, EtOH or Fructose"],
              "range": ["#ffffff", "#111111", {"expr": "{gradient:'linear',x1:0,y1:0,x2:1,y2:1,stops:[{offset:0,color:'#111'},{offset:0.1,color:'#111'},{offset:0.1,color:'#fff'},{offset:0.2,color:'#fff'},{offset:0.2,color:'#111'},{offset:0.3,color:'#111'},{offset:0.3,color:'#fff'},{offset:0.4,color:'#fff'},{offset:0.4,color:'#111'},{offset:0.5,color:'#111'},{offset:0.5,color:'#fff'},{offset:0.6,color:'#fff'},{offset:0.6,color:'#111'},{offset:0.7,color:'#111'},{offset:0.7,color:'#fff'},{offset:0.8,color:'#fff'},{offset:0.8,color:'#111'},{offset:0.9,color:'#111'},{offset:0.9,color:'#fff'},{offset:1,color:'#fff'}]}"}, "#d4d4d4"]},
              "legend": {"title": null, "orient": "none", "legendX": 181, "legendY": -22, "labelFontSize": 18.5, "symbolType": "square", "symbolSize": 196, "symbolStrokeColor": "#555", "symbolStrokeWidth": 1, "rowPadding": 2, "labelOffset": 8}}
          }
        },
        {
          "data": {"name": "F"},
          "transform": [{"filter": "isValid(datum.label)"}],
          "mark": {"type": "text", "baseline": "bottom", "dy": -2, "fontSize": 12},
          "encoding": {
            "x": {"field": "gene", "type": "nominal", "scale": {"domain": ["FBP1","PCK1","ICL1","IDP2"], "paddingInner": 0, "paddingOuter": 0}},
            "xOffset": {"field": "series", "type": "nominal", "scale": {"domain": ["WT, YPD (exponential)", "WT, EtOH or Fructose", "fab1Δ, YPD (exponential)", "fab1Δ, EtOH or Fructose"], "paddingInner": 0, "paddingOuter": 0.73}},
            "y": {"field": "value", "type": "quantitative", "scale": {"domain": [0, 35], "nice": false}},
            "text": {"field": "label", "type": "nominal"}
          }
        },
        {
          "data": {"values": [
            {"gene": "FBP1", "series": "WT, YPD (exponential)", "o": 1},
            {"gene": "IDP2", "series": "fab1Δ, EtOH or Fructose", "o": 2}
          ]},
          "mark": {"type": "line", "color": "#000", "strokeWidth": 1.2},
          "encoding": {
            "x": {"field": "gene", "type": "nominal", "scale": {"domain": ["FBP1","PCK1","ICL1","IDP2"], "paddingInner": 0, "paddingOuter": 0}},
            "xOffset": {"field": "series", "type": "nominal", "scale": {"domain": ["WT, YPD (exponential)", "WT, EtOH or Fructose", "fab1Δ, YPD (exponential)", "fab1Δ, EtOH or Fructose"], "paddingInner": 0, "paddingOuter": 0.73}},
            "y": {"datum": -4.05, "type": "quantitative", "scale": {"domain": [0, 35], "nice": false}},
            "order": {"field": "o", "type": "quantitative"}
          }
        }
      ]
    }
  ]
}
]
}
